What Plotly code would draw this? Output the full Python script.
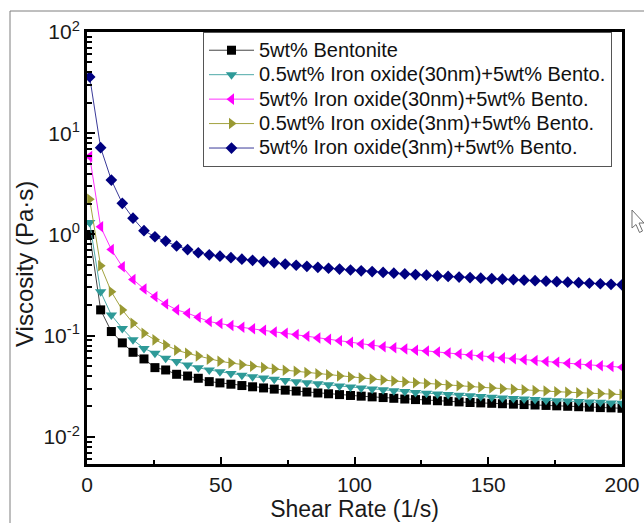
import plotly.graph_objects as go

shear_rate = [1.0, 5.1, 9.1, 13.2, 17.2, 21.3, 25.4, 29.4, 33.5, 37.6,
              41.6, 45.7, 49.7, 53.8, 57.9, 61.9, 66.0, 70.0, 74.1, 78.2,
              82.2, 86.3, 90.3, 94.4, 98.5, 102.5, 106.6, 110.7, 114.7, 118.8,
              122.8, 126.9, 131.0, 135.0, 139.1, 143.2, 147.2, 151.3, 155.3, 159.4,
              163.4, 167.5, 171.6, 175.6, 179.7, 183.8, 187.8, 191.9, 195.9, 200.0]

bentonite = [1.0, 0.18, 0.11, 0.085, 0.0686, 0.059, 0.0484, 0.0459, 0.0416, 0.040,
             0.038, 0.0352, 0.0342, 0.0332, 0.0322, 0.0313, 0.0305, 0.0297, 0.029, 0.0284,
             0.0278, 0.0272, 0.0267, 0.0262, 0.0257, 0.0253, 0.0249, 0.0245, 0.0241, 0.0237,
             0.0234, 0.0231, 0.0228, 0.0225, 0.0222, 0.0219, 0.0217, 0.0215, 0.0213, 0.0211,
             0.0209, 0.0207, 0.0205, 0.0203, 0.0201, 0.0199, 0.0197, 0.0195, 0.0194, 0.0192]

fe30_05 = [1.31, 0.272, 0.16, 0.118, 0.091, 0.075, 0.067, 0.060, 0.0555, 0.0514,
           0.0484, 0.0459, 0.044, 0.0423, 0.0408, 0.0394, 0.0383, 0.0371, 0.0361, 0.0352,
           0.0343, 0.0335, 0.0327, 0.0319, 0.0312, 0.0305, 0.0298, 0.0292, 0.0286, 0.0281,
           0.0275, 0.0271, 0.0266, 0.0262, 0.0258, 0.0255, 0.0251, 0.0247, 0.0243, 0.024,
           0.0237, 0.0234, 0.0231, 0.0228, 0.0226, 0.0224, 0.0222, 0.022, 0.0217, 0.0215]

fe30_5 = [5.9, 1.19, 0.71, 0.48, 0.36, 0.29, 0.243, 0.206, 0.18, 0.167,
          0.152, 0.138, 0.132, 0.126, 0.121, 0.117, 0.113, 0.109, 0.106, 0.103,
          0.099, 0.095, 0.092, 0.089, 0.086, 0.083, 0.081, 0.078, 0.076, 0.074,
          0.072, 0.0705, 0.069, 0.0675, 0.066, 0.0645, 0.063, 0.0617, 0.0604, 0.0592,
          0.058, 0.0568, 0.0557, 0.0546, 0.0535, 0.0525, 0.0515, 0.0506, 0.0497, 0.0488]

fe3_05 = [2.23, 0.49, 0.272, 0.18, 0.133, 0.106, 0.091, 0.081, 0.072, 0.067,
          0.063, 0.0586, 0.056, 0.0538, 0.0518, 0.050, 0.0485, 0.047, 0.0457, 0.0445,
          0.0433, 0.0422, 0.0411, 0.0401, 0.0391, 0.0382, 0.0373, 0.0365, 0.0357, 0.035,
          0.0343, 0.0337, 0.0331, 0.0325, 0.032, 0.0315, 0.031, 0.0305, 0.030, 0.0296,
          0.0292, 0.0288, 0.0284, 0.028, 0.0277, 0.0274, 0.0271, 0.0268, 0.0265, 0.0262]

fe3_5 = [36.0, 7.2, 3.45, 2.03, 1.45, 1.09, 0.95, 0.86, 0.77, 0.71,
         0.66, 0.63, 0.61, 0.59, 0.57, 0.555, 0.54, 0.525, 0.51, 0.497,
         0.485, 0.474, 0.464, 0.455, 0.446, 0.438, 0.43, 0.422, 0.415, 0.408,
         0.402, 0.396, 0.39, 0.385, 0.38, 0.375, 0.37, 0.366, 0.362, 0.358,
         0.354, 0.35, 0.346, 0.342, 0.338, 0.334, 0.33, 0.326, 0.322, 0.318]

series_names = ["5wt% Bentonite",
                "0.5wt% Iron oxide(30nm)+5wt% Bento.",
                "5wt% Iron oxide(30nm)+5wt% Bento.",
                "0.5wt% Iron oxide(3nm)+5wt% Bento.",
                "5wt% Iron oxide(3nm)+5wt% Bento."]
series_values = [bentonite, fe30_05, fe30_5, fe3_05, fe3_5]
colors = ["#000000", "#2E9A98", "#FF00FF", "#999933", "#000080"]
line_colors = ["#444444", "#4FAAA8", "#FF33FF", "#A3A340", "#3A3A99"]
symbols = ["square", "triangle-down", "triangle-left", "triangle-right", "diamond"]
sizes = [9, 10, 10, 10, 9]

x_tickvals = [0, 50, 100, 150, 200]
y_tickvals = [0.01, 0.1, 1, 10, 100]
y_ticktext = ["10<sup>-2</sup>", "10<sup>-1</sup>", "10<sup>0</sup>", "10<sup>1</sup>", "10<sup>2</sup>"]
y_minor = [m * d for d in [0.001, 0.01, 0.1, 1, 10] for m in range(2, 10)]

# plot area in pixels (for placing decorations outside the axes)
L, R, T, B = 87, 622, 32, 464
def px(xp):
    return (xp - L) / (R - L)
def py(yp):
    return (B - yp) / (B - T)

fig = go.Figure()
for name, vals, c, lc, s, sz in zip(series_names, series_values, colors, line_colors, symbols, sizes):
    fig.add_trace(go.Scatter(
        x=shear_rate, y=vals,
        name='<span style="font-size:20px">' + name + '</span>',
        mode="lines+markers",
        line=dict(color=lc, width=1),
        marker=dict(symbol=s, size=sz, color=c, line=dict(width=0)),
    ))

font_family = "Liberation Sans, Arial, sans-serif"

cursor = [(632, 210), (632, 228), (636, 224.5), (639.5, 232.5), (642.5, 231), (639, 223), (644, 223)]
cursor_path = "M " + " L ".join(f"{px(a):.5f},{py(b):.5f}" for a, b in cursor) + " Z"

fig.update_layout(
    width=644, height=523,
    margin=dict(l=L, r=644 - R, t=T, b=523 - B, autoexpand=False),
    paper_bgcolor="white", plot_bgcolor="white",
    font=dict(family=font_family, color="#1a1a1a"),
    showlegend=True,
    legend=dict(
        x=px(203), y=1.0, xanchor="left", yanchor="top",
        bgcolor="white", bordercolor="#555555", borderwidth=1,
        font=dict(size=16.5, family=font_family, color="#111111"),
        itemwidth=45, tracegroupgap=0,
    ),
    xaxis=dict(
        range=[0, 200], tickmode="array", tickvals=x_tickvals,
        showgrid=False, zeroline=False, automargin=False,
        showline=True, linecolor="black", linewidth=3, mirror=True,
        ticks="inside", ticklen=7, tickwidth=2, tickcolor="black",
        minor=dict(tickvals=[25, 75, 125, 175], ticks="inside", ticklen=4, tickwidth=2, tickcolor="black"),
        tickfont=dict(size=21),
        title=dict(text="Shear Rate (1/s)", font=dict(size=23), standoff=4),
    ),
    yaxis=dict(
        type="log", range=[-2.267, 2],
        tickmode="array", tickvals=y_tickvals, ticktext=y_ticktext,
        showgrid=False, zeroline=False, automargin=False,
        showline=True, linecolor="black", linewidth=3, mirror=True,
        ticks="inside", ticklen=8, tickwidth=2, tickcolor="black",
        minor=dict(tickmode="array", tickvals=y_minor, ticks="inside", ticklen=5, tickwidth=2, tickcolor="black", showgrid=False),
        tickfont=dict(size=21),
    ),
    annotations=[
        dict(text="Viscosity (Pa·s)", textangle=-90, xref="paper", yref="paper",
             x=px(24), y=py(264), xanchor="center", yanchor="middle", showarrow=False,
             font=dict(size=24, family=font_family, color="#1a1a1a")),
    ],
    shapes=[
        dict(type="line", xref="paper", yref="paper", x0=px(10), x1=px(644), y0=py(11), y1=py(11),
             line=dict(color="#7f7f7f", width=1)),
        dict(type="line", xref="paper", yref="paper", x0=px(10), x1=px(10), y0=py(11), y1=py(523),
             line=dict(color="#7f7f7f", width=1)),
        dict(type="path", xref="paper", yref="paper", path=cursor_path,
             fillcolor="white", line=dict(color="#6f6f6f", width=1)),
    ],
)

fig.write_html("out.html")
